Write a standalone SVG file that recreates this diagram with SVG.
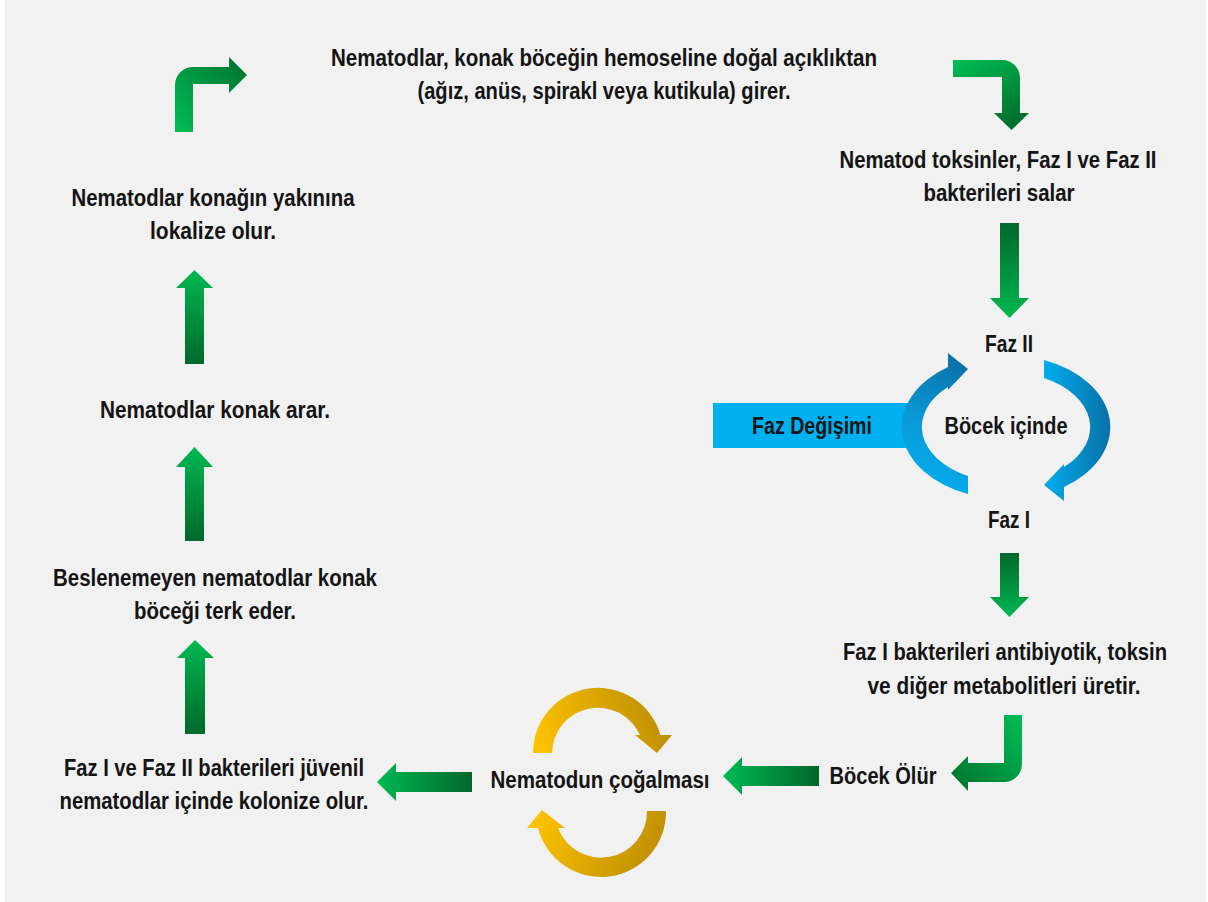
<svg xmlns="http://www.w3.org/2000/svg" width="1208" height="902" viewBox="0 0 1208 902">
<defs>
<style>
text{font-family:"Liberation Sans",Arial,sans-serif;font-weight:bold;font-size:23px;fill:#141414;text-anchor:middle}
</style>
<linearGradient id="gUp" x1="0" y1="0" x2="0" y2="1"><stop offset="0" stop-color="#00b852"/><stop offset="1" stop-color="#00682b"/></linearGradient>
<linearGradient id="gDown" x1="0" y1="0" x2="0" y2="1"><stop offset="0" stop-color="#00682b"/><stop offset="1" stop-color="#00b852"/></linearGradient>
<linearGradient id="gLeft" x1="0" y1="0" x2="1" y2="0"><stop offset="0" stop-color="#00b852"/><stop offset="1" stop-color="#00682b"/></linearGradient>
<linearGradient id="gBentTL" x1="0" y1="1" x2="1" y2="0"><stop offset="0" stop-color="#00be55"/><stop offset="1" stop-color="#00702e"/></linearGradient>
<linearGradient id="gBentTR" x1="0" y1="0" x2="0.6" y2="1"><stop offset="0" stop-color="#00be55"/><stop offset="1" stop-color="#00702e"/></linearGradient>
<linearGradient id="gBentBR" x1="1" y1="0" x2="0" y2="1"><stop offset="0" stop-color="#00be55"/><stop offset="1" stop-color="#00702e"/></linearGradient>
<linearGradient id="gBlueL" gradientUnits="userSpaceOnUse" x1="910" y1="490" x2="975" y2="365"><stop offset="0" stop-color="#00b0f0"/><stop offset="0.45" stop-color="#0a9ad8"/><stop offset="1" stop-color="#0a6fa6"/></linearGradient>
<linearGradient id="gBlueR" gradientUnits="userSpaceOnUse" x1="1040" y1="0" x2="1112" y2="0"><stop offset="0" stop-color="#00b0f0"/><stop offset="1" stop-color="#0a6fa6"/></linearGradient>
<linearGradient id="gGoldT" gradientUnits="userSpaceOnUse" x1="535" y1="750" x2="670" y2="700"><stop offset="0" stop-color="#ffc400"/><stop offset="1" stop-color="#b98a06"/></linearGradient>
<linearGradient id="gGoldB" gradientUnits="userSpaceOnUse" x1="530" y1="815" x2="665" y2="870"><stop offset="0" stop-color="#ffc400"/><stop offset="1" stop-color="#b98a06"/></linearGradient>
</defs>
<rect x="0" y="0" width="1208" height="902" fill="#ffffff"/>
<rect x="5" y="0" width="1201" height="902" fill="#f1f1f1"/>

<g id="connectors">
<path d="M175,132 L175,85 A18,18 0 0 1 193,67 L229,67 L229,57 L247,75 L229,93 L229,84 L193,84 L193,132 Z" fill="url(#gBentTL)"/>
<path d="M953,60 L1002,60 A18,18 0 0 1 1020,78 L1020,113 L1029,113 L1011.5,130 L994,113 L1002,113 L1002,77 L953,77 Z" fill="url(#gBentTR)"/>
<path d="M1000,223 L1019,223 L1019,298 L1029,298 L1009.5,318 L990,298 L1000,298 Z" fill="url(#gDown)"/>
<path d="M1000,553 L1019,553 L1019,597 L1029,597 L1009.5,617 L990,597 L1000,597 Z" fill="url(#gDown)"/>
<path d="M1004,715 L1022,715 L1022,764 A18,18 0 0 1 1004,782 L968,782 L968,791 L951,773 L968,756 L968,763 L1004,763 Z" fill="url(#gBentBR)"/>
<path d="M819,766 L819,786 L742,786 L742,795 L723,776 L742,757 L742,766 Z" fill="url(#gLeft)"/>
<path d="M472,772 L472,792 L396,792 L396,801 L377,782 L396,763 L396,772 Z" fill="url(#gLeft)"/>
<path d="M185,734 L185,658 L177,658 L195,640 L214,658 L205,658 L205,734 Z" fill="url(#gUp)"/>
<path d="M185,541 L185,467 L176,467 L194.5,447 L213,467 L204,467 L204,541 Z" fill="url(#gUp)"/>
<path d="M185,364 L185,288 L176,288 L194.5,270 L213,288 L204,288 L204,364 Z" fill="url(#gUp)"/>
</g>

<g id="phase-change">
<rect x="713" y="403" width="197" height="45" fill="#00b0f0"/>
<path d="M968,494 A104,72 0 0 1 948,367 L948,353 L968,369 L948,390 L948,387 A84,55 0 0 0 968,476 Z" fill="url(#gBlueL)"/>
<path d="M1044,360 A104,72 0 0 1 1064,487 L1064,501 L1044,485 L1064,464 L1064,467 A84,55 0 0 0 1044,378 Z" fill="url(#gBlueR)"/>
<text x="812" y="434" textLength="120" lengthAdjust="spacingAndGlyphs">Faz Değişimi</text>
<text x="1006" y="434" textLength="123" lengthAdjust="spacingAndGlyphs">Böcek içinde</text>
</g>

<g id="reproduction">
<path d="M552,753 L533,753 A65,65 0 0 1 660.5,735 L672,735 L657,753 L635,735 L640,735 A46,46 0 0 0 552,753 Z" fill="url(#gGoldT)"/>
<path d="M647,811 L666,811 A65,65 0 0 1 538,828 L527,828 L542,810 L565,828 L558,828 A46,46 0 0 0 647,811 Z" fill="url(#gGoldB)"/>
<text x="600" y="788" textLength="219" lengthAdjust="spacingAndGlyphs">Nematodun çoğalması</text>
</g>

<g id="n-enter"><text x="604" y="66" textLength="546" lengthAdjust="spacingAndGlyphs">Nematodlar, konak böceğin hemoseline doğal açıklıktan</text><text x="604" y="99" textLength="373" lengthAdjust="spacingAndGlyphs">(ağız, anüs, spirakl veya kutikula) girer.</text></g>
<g id="n-release"><text x="998" y="168" textLength="317" lengthAdjust="spacingAndGlyphs">Nematod toksinler, Faz I ve Faz II</text><text x="999" y="201" textLength="151" lengthAdjust="spacingAndGlyphs">bakterileri salar</text></g>
<g id="n-faz2"><text x="1009" y="352" textLength="48" lengthAdjust="spacingAndGlyphs">Faz II</text></g>
<g id="n-faz1"><text x="1009" y="528" textLength="42" lengthAdjust="spacingAndGlyphs">Faz I</text></g>
<g id="n-metab"><text x="1005" y="660" textLength="324" lengthAdjust="spacingAndGlyphs">Faz I bakterileri antibiyotik, toksin</text><text x="1004" y="694" textLength="273" lengthAdjust="spacingAndGlyphs">ve diğer metabolitleri üretir.</text></g>
<g id="n-dies"><text x="883" y="784" textLength="107" lengthAdjust="spacingAndGlyphs">Böcek Ölür</text></g>
<g id="n-colonize"><text x="214" y="776" textLength="300" lengthAdjust="spacingAndGlyphs">Faz I ve Faz II bakterileri jüvenil</text><text x="214" y="809" textLength="309" lengthAdjust="spacingAndGlyphs">nematodlar içinde kolonize olur.</text></g>
<g id="n-leave"><text x="215" y="586" textLength="324" lengthAdjust="spacingAndGlyphs">Beslenemeyen nematodlar konak</text><text x="215" y="619" textLength="162" lengthAdjust="spacingAndGlyphs">böceği terk eder.</text></g>
<g id="n-search"><text x="215" y="418" textLength="230" lengthAdjust="spacingAndGlyphs">Nematodlar konak arar.</text></g>
<g id="n-localize"><text x="213" y="206" textLength="283" lengthAdjust="spacingAndGlyphs">Nematodlar konağın yakınına</text><text x="213" y="239" textLength="126" lengthAdjust="spacingAndGlyphs">lokalize olur.</text></g>
</svg>
